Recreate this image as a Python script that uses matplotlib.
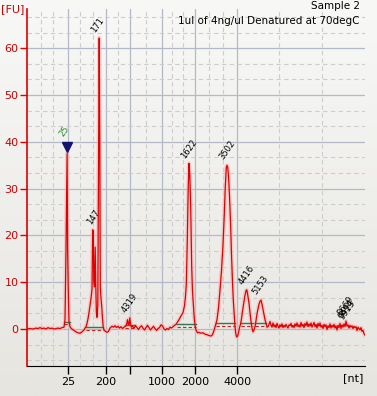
import matplotlib
matplotlib.use("Agg")
import matplotlib.pyplot as plt
import numpy as np
from matplotlib.colors import LinearSegmentedColormap

plt.rcParams['font.family'] = ['Liberation Sans Narrow', 'DejaVu Sans']

# ---- data -------------------------------------------------------------
# migration time (arbitrary units) and fluorescence [FU]
time = [27, 30, 33, 36, 38, 40, 42, 44, 46, 48, 50, 52, 54, 56, 58, 60, 62, 64,
        65, 66, 67.1, 67.6, 68.3, 69, 70, 71, 72, 74, 76, 78, 80, 82, 84, 85, 86, 87, 88, 89, 90,
        91, 92, 92.7, 93.3, 93.8, 94.5, 95.2, 95.8, 96.4, 97, 97.8, 98.6, 99.2, 99.8, 100.3, 101,
        101.7, 102.4, 103.2, 104, 105.5, 107, 108.5, 110, 112, 113.5, 115, 116.5, 118, 119.5, 121,
        122.5, 124, 125.5, 126.5, 127.5, 128.3, 129, 129.8, 130.5, 131.3, 132.5, 134, 135.5, 137,
        138.5, 140, 141.5, 143, 144.5, 146, 147.5, 149, 150.5, 152, 153.5, 155, 156.5, 158, 159.5,
        161, 162.5, 164, 165.5, 167, 168.5, 170, 171.5, 173, 174.5, 176, 177.5, 179, 181, 183,
        184.5, 185.5, 186.3, 187.3, 188.2, 189, 189.8, 190.7, 191.7, 192.5, 193.3, 194.2, 195, 196,
        197.5, 199, 201, 203, 205, 207, 209, 211, 212.5, 214, 215.5, 217, 218.5, 220, 221.5, 223,
        224.2, 225.2, 226.3, 227, 227.8, 228.7, 229.5, 230.5, 231.5, 232.5, 233.3, 234.2, 235,
        235.8, 236.7, 237.6, 238.5, 239.5, 240.5, 241.5, 242.5, 243.5, 244.8, 246, 246.8, 247.8,
        249, 250, 251, 252, 253, 254, 255, 256, 257, 258, 259, 260, 261, 262, 263, 264, 265, 266,
        267, 268, 269, 270, 271, 272, 273, 274, 275, 276, 277, 278, 279, 280, 281, 282, 283, 284,
        285, 286, 287, 288, 289, 290, 291, 292, 293, 294, 295, 296, 297, 298, 299, 300, 301, 302,
        303, 304, 305, 306, 307, 308, 309, 310, 311, 312, 313, 314, 315, 316, 317, 318, 319, 320,
        321, 322, 323, 324, 325, 326, 327, 328, 329, 330, 331, 332, 333, 334, 335, 336, 337, 338,
        339, 340, 341, 342, 343, 344, 345, 346, 347, 348, 349, 350, 351, 352, 353, 354, 355, 356,
        357, 358, 359, 360, 361, 362, 363, 364, 365]
fu = [0.0, 0.1, 0.0, 0.2, 0.1, 0.3, 0.1, 0.2, 0.0, 0.3, 0.1, 0.2, 0.0, 0.1, 0.2, 0.1, 0.3, 0.4,
      2, 17, 37.5, 17, 8, 1.5, 0.5, 0.2, 0.0, -0.3, -0.6, -0.8, -0.9, -0.6, -0.2, 0.2, 0.5, 1.2, 2.2, 3.5, 5,
      6.5, 8.5, 21.2, 21, 10, 9, 17.5, 9, 3.5, 2.5, 5, 40, 62.2, 40, 9, 6.5,
      5, 2.5, 0.5, -0.2, -0.5, -0.7, -0.5, 0.2, 0.6, 0.4, 0.7, 0.3, 0.6, 0.2, 0.5,
      0.1, 0.4, 0.6, 0.9, 2.0, 1.0, 0.9, 2.4, 1.2, 0.4, 0.6, 0.2, 0.7, 0.3,
      -0.1, 0.4, 0.7, 0.2, -0.2, 0.3, 0.8, 0.3, -0.2, 0.2, 0.6, 0.1, -0.3, 0.1, 0.3,
      0.9, 0.7, 0.0, -0.2, 0.1, -0.1, 0.4, 0.2, 0.5, 0.8, 1.0, 1.5, 2.0, 2.8, 3.5,
      5, 7, 9.5, 19, 30, 35.4, 33, 26, 13.3, 8, 5.5, 2.5, 0.8, -0.2,
      -0.8, -0.7, -0.9, -0.8, -1.1, -1.2, -1.4, -1.5, -1.2, -0.3, 0.8, 2, 4.5, 8.3, 12.5, 18,
      24, 30, 34.5, 35, 34.5, 32, 28.5, 23, 16, 10, 6.2, 3, 0.5,
      -1, -1.7, -1.5, -0.8, 0.3, 1.0, 2.2, 3.8, 5.2, 7, 8.2, 8.4, 7.2,
      5.5, 3.5, 1.6, 0.2, -0.6, -0.2, 0.5, 1.8, 3.3, 4.3, 5.3, 5.9, 6.2, 5.3, 4.2, 3, 2, 1.2,
      0.4, 0.5, 1.0, 1.6, 0.8, 0.4, 1.3, 0.5, 0.9, 0.3, 1.2, 0.6, 0.2, 0.9, 0.5, 1.1, 0.3, 0.8,
      0.4, 1.0, 0.6, 0.2, 0.9, 0.7, 1.2, 0.4, 0.8, 0.3, 1.1, 0.6, 1.3, 0.5, 0.9, 0.4, 1.4, 0.6,
      1.0, 0.3, 1.2, 0.7, 1.5, 0.5, 1.1, 0.6, 1.3, 0.4, 0.9, 1.4, 0.5, 1.0, 0.2, 1.2, 0.6, 1.3,
      0.4, 0.8, 0.1, 1.0, 0.5, 0.9, -0.1, 0.7, 0.3, 1.1, 0.2, 0.8, 0.4, 1.0, 0.2, 0.7, -0.2, 0.8,
      0.3, 1.2, 0.1, 0.9, 0.4, 1.1, 0.5, 1.7, 0.6, 0.9, 0.2, 0.8, 0.4, 0.7, 0.1, 0.6, 0.3, 0.5,
      -0.3, 0.4, 0.1, -0.2, 0.3, -0.5, -0.3, -1.0, -1.3]

# ladder positions on the time axis and their size labels [nt]
ladder_time = [67.7, 105.7, 130, 161.7, 195, 237.3]
ladder_labels = ["25", "200", "", "1000", "2000", "4000"]
minor_time = [40.7, 53.3, 80, 92.7, 118.3, 145.5, 171.7, 183.3, 209.3, 223.3, 279.3, 322.3]

# called peaks: time, height, label
peak_time = [67.1, 95.2, 99.2, 130, 189, 227, 246.8, 261, 346, 347, 348]
peak_height = [37.5, 21.2, 62.2, 2.4, 35.4, 35, 8.4, 6.2, 1.7, 1.2, 0.8]
peak_labels = ["25", "147", "171", "4319", "1622", "3502", "4416", "5153", "8669", "9494", "9913"]

# peak baselines (start, end, level)
base_start = [64, 86, 124.5, 176.5, 216, 241, 255]
base_end = [70, 103, 134.5, 196, 235, 253, 266]
base_level = [1.6, 0.5, 0.9, 1.1, 1.3, 1.3, 1.3]

# ---- figure -------------------------------------------------------------
W, H = 377, 396
fig = plt.figure(figsize=(W / 100, H / 100), dpi=100)

# background gradient
bg = fig.add_axes([0, 0, 1, 1], zorder=-10)
grad = np.linspace(0, 1, 256).reshape(-1, 1)
cmap = LinearSegmentedColormap.from_list("bg", ["#f8f8f7", "#e6e5e0"])
bg.imshow(grad, aspect="auto", cmap=cmap, extent=[0, 1, 0, 1], origin="upper")
bg.axis("off")

ax = fig.add_axes([27 / W, 1 - 366 / H, (365 - 27) / W, (366 - 9) / H])
ax.set_facecolor("none")
ax.set_xlim(27, 365)
ax.set_ylim(-7.9, 68.4)

# grid
for v in ladder_time:
    ax.axvline(v, color="#b3b9c7", lw=0.9, zorder=1)
for v in minor_time:
    ax.axvline(v, color="#cdcdcd", lw=0.8, ls=(0, (4, 3)), zorder=1)
for v in range(0, 61, 10):
    ax.axhline(v, color="#b3b9c7", lw=0.9, zorder=1)
for v in np.arange(-20, 70, 10 / 3):
    if abs(v - round(v / 10) * 10) > 0.5:
        ax.axhline(v, color="#cdcdcd", lw=0.8, ls=(0, (4, 3)), zorder=1)

# baselines
for s, e, l in zip(base_start, base_end, base_level):
    ax.plot([s, e], [l - 0.6, l - 0.6], color="#d02020", lw=0.8, ls=(0, (3, 2)), zorder=3)
    ax.plot([s, e], [l, l], color="#2f7a55", lw=1.0, zorder=4)

# trace with glow
ax.plot(time, fu, color="#f6b6b6", lw=3.0, alpha=0.6, zorder=2, solid_joinstyle="round")
ax.plot(time, fu, color="#e00000", lw=0.9, zorder=5)

# ladder marker on the 25 nt peak
ax.plot([peak_time[0]], [peak_height[0] + 1.4], marker="v", color="#14146e",
        markersize=7, zorder=6)

# peak labels
for i, (t, h, lab) in enumerate(zip(peak_time, peak_height, peak_labels)):
    col = "#2a8a2a" if i == 0 else "black"
    dy = 3.2 if i == 0 else 0.8
    ax.text(t - 2.5, h + dy, lab, rotation=55, rotation_mode="anchor", ha="left",
            va="bottom", fontsize=6, color=col, zorder=7)

# axes styling
ax.spines["left"].set_color("#dd0000")
ax.spines["left"].set_linewidth(1.2)
ax.spines["bottom"].set_color("black")
ax.spines["top"].set_visible(False)
ax.spines["right"].set_visible(False)
ax.set_yticks(range(0, 61, 10))
ax.set_yticklabels([str(v) for v in range(0, 61, 10)])
ax.tick_params(axis="y", colors="#dd0000", labelcolor="#cc0000", length=5, width=1,
               labelsize=8, pad=1)
ax.set_xticks(ladder_time)
ax.set_xticklabels(ladder_labels)
ax.tick_params(axis="x", colors="black", length=6, width=1, labelsize=8, pad=2)

fig.text(1 / W, 1 - 9 / H, "[FU]", color="#cc0000", fontsize=8, va="center", ha="left")
fig.text(363 / W, 1 - 378 / H, "[nt]", color="black", fontsize=8, va="center", ha="right")
fig.text(360 / W, 1 - 6 / H, "Sample 2", fontsize=7.5, ha="right", va="center")
fig.text(360 / W, 1 - 21 / H, "1ul of 4ng/ul Denatured at 70degC", fontsize=7.5,
         ha="right", va="center")

fig.savefig("out.png", dpi=100)
